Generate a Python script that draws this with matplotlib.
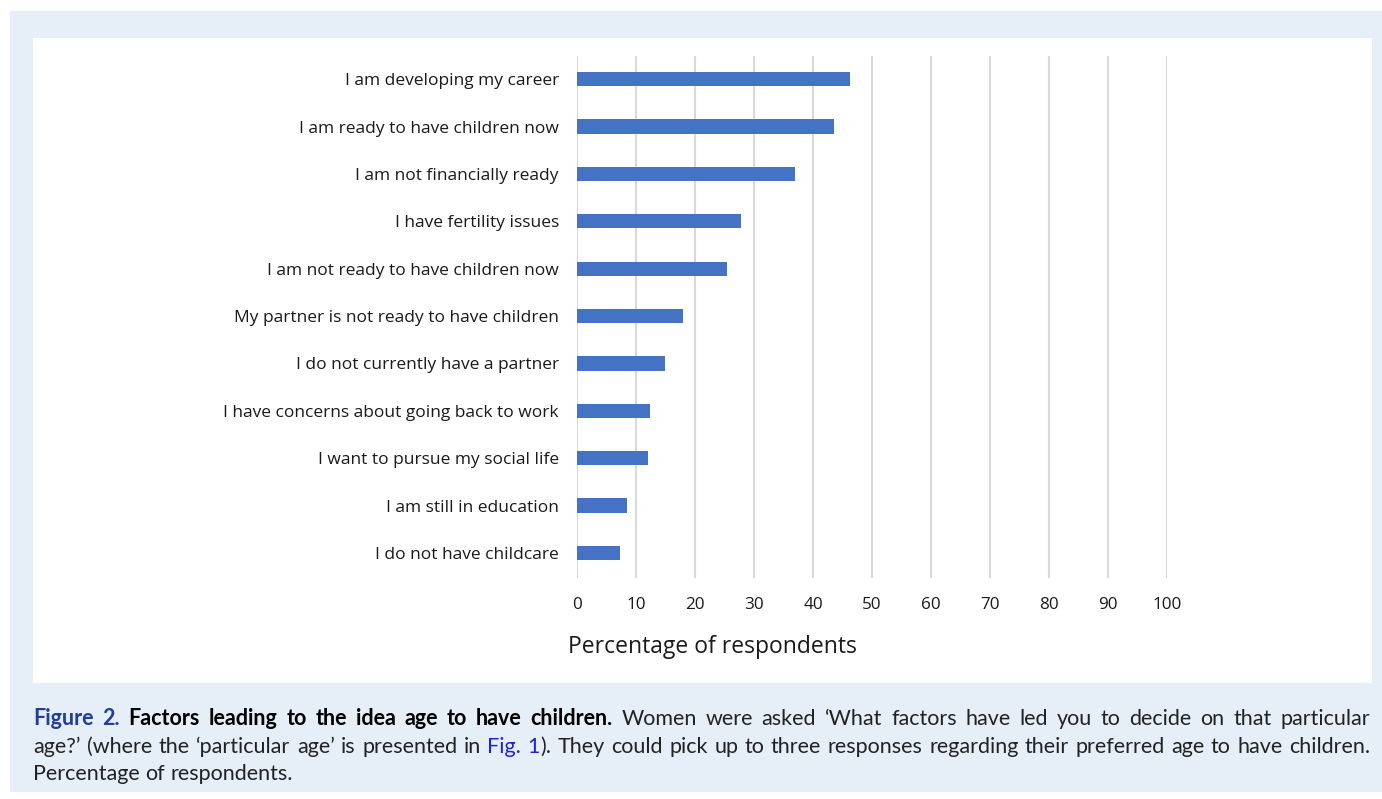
import matplotlib
matplotlib.use("Agg")
import matplotlib.pyplot as plt
from matplotlib.patches import Rectangle

categories = [
    "I am developing my career",
    "I am ready to have children now",
    "I am not financially ready",
    "I have fertility issues",
    "I am not ready to have children now",
    "My partner is not ready to have children",
    "I do not currently have a partner",
    "I have concerns about going back to work",
    "I want to pursue my social life",
    "I am still in education",
    "I do not have childcare",
]
values = [46.2, 43.5, 36.9, 27.8, 25.4, 18.0, 14.9, 12.4, 12.0, 8.5, 7.3]
x_ticks = [0, 10, 20, 30, 40, 50, 60, 70, 80, 90, 100]
x_label = "Percentage of respondents"

W, H = 1382, 799
fig = plt.figure(figsize=(W / 100, H / 100), dpi=100)
fig.patch.set_facecolor("white")

def fx(px):
    return px / W

def fy(py):
    return 1 - py / H

# light blue frame and white chart panel
fig.patches.append(Rectangle((fx(10), fy(792)), fx(1382) - fx(10), fy(11) - fy(792),
                             transform=fig.transFigure, facecolor="#e6eef8", edgecolor="none", zorder=-10))
fig.patches.append(Rectangle((fx(33), fy(683)), fx(1372) - fx(33), fy(38) - fy(683),
                             transform=fig.transFigure, facecolor="white", edgecolor="none", zorder=-9))

chart_font = ["Open Sans", "DejaVu Sans"]

ax = fig.add_axes([fx(577), fy(578), fx(1167) - fx(577), fy(56) - fy(578)])
ax.set_facecolor("none")
ypos = list(range(len(categories)))
ax.barh(ypos, values, height=0.3, color="#4472C4", zorder=3)
ax.set_xlim(0, 100)
ax.set_ylim(len(categories) - 0.47, -0.49)
ax.set_xticks(x_ticks)
ax.set_xticklabels([str(t) for t in x_ticks], fontsize=12.3, family=chart_font, color="#1a1a1a")
ax.set_yticks(ypos)
ax.set_yticklabels(categories, fontsize=12.5, family=chart_font, color="#1a1a1a")
ax.tick_params(axis="both", length=0)
ax.tick_params(axis="x", pad=14)
ax.tick_params(axis="y", pad=13)
for s in ax.spines.values():
    s.set_visible(False)
ax.grid(axis="x", color="#d9d9d9", linewidth=1.5, zorder=0)
ax.set_xlabel(x_label, fontsize=16.5, family=chart_font, color="#1a1a1a")
ax.xaxis.set_label_coords((712 - 577) / (1167 - 577), -(647 - 578) / (578 - 56))
ax.xaxis.label.set_va("center")

# caption with justified lines
cap_font = ["Lato", "DejaVu Sans"]
fs = 15.5
BLUE = "#1f3f99"
LINK = "#2020e0"
styles = {
    "fig": dict(color=BLUE, weight="bold"),
    "b": dict(color="black", weight="bold"),
    "r": dict(color="#222222", weight="normal"),
    "link": dict(color=LINK, weight="normal"),
}

def words(text, style):
    return [[(w, style)] for w in text.split(" ")]

line1 = words("Figure 2.", "fig") + words("Factors leading to the idea age to have children.", "b") + \
    words("Women were asked \u2018What factors have led you to decide on that particular", "r")
line2 = words("age?\u2019 (where the \u2018particular age\u2019 is presented in", "r") + \
    [[("Fig.", "link")]] + [[("1", "link"), (").", "r")]] + \
    words("They could pick up to three responses regarding their preferred age to have children.", "r")
line3 = words("Percentage of respondents.", "r")

renderer = fig.canvas.get_renderer()

def width_of(txt, style):
    t = fig.text(0, 0, txt, fontsize=fs, family=cap_font, **styles[style])
    bb = t.get_window_extent(renderer)
    t.remove()
    return bb.width

space_w = width_of("a b", "r") - width_of("ab", "r")

def draw_line(tokens, y, justify):
    x0, x1 = 33, 1370
    widths = [sum(width_of(p, s) for p, s in tok) for tok in tokens]
    if justify and len(tokens) > 1:
        gap = (x1 - x0 - sum(widths)) / (len(tokens) - 1)
    else:
        gap = space_w
    x = x0
    for tok, w in zip(tokens, widths):
        xx = x
        for p, s in tok:
            fig.text(fx(xx), fy(y), p, fontsize=fs, family=cap_font, va="baseline", ha="left", **styles[s])
            xx += width_of(p, s)
        x += w + gap

draw_line(line1, 725, True)
draw_line(line2, 753, True)
draw_line(line3, 780, False)

fig.savefig("out.png", dpi=100, facecolor=fig.get_facecolor())
